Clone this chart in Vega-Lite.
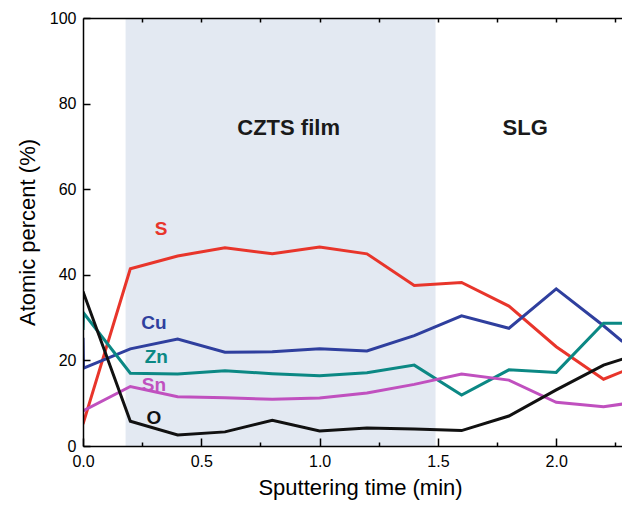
{
  "$schema": "https://vega.github.io/schema/vega-lite/v6.json",
  "width": 539,
  "height": 428,
  "autosize": {"type": "none"},
  "padding": {"left": 83, "top": 18, "right": 0, "bottom": 59},
  "background": "white",
  "config": {
    "view": {"stroke": null},
    "font": "Liberation Sans",
    "axis": {"zindex": 1, "domainColor": "black", "domainWidth": 1.5, "tickColor": "black", "tickWidth": 1.5, "grid": false, "labelColor": "black", "titleColor": "black", "labelFont": "Liberation Sans", "titleFont": "Liberation Sans", "labelFontSize": 16, "titleFontSize": 22, "titleFontWeight": "normal", "labelFlush": false}
  },
  "datasets": {
    "series": [
      {"el": "S", "o": 0, "t": 0, "v": 5.1},
      {"el": "S", "o": 1, "t": 0.2, "v": 41.4},
      {"el": "S", "o": 2, "t": 0.4, "v": 44.4},
      {"el": "S", "o": 3, "t": 0.6, "v": 46.3},
      {"el": "S", "o": 4, "t": 0.8, "v": 44.9},
      {"el": "S", "o": 5, "t": 1.0, "v": 46.5},
      {"el": "S", "o": 6, "t": 1.2, "v": 44.9},
      {"el": "S", "o": 7, "t": 1.4, "v": 37.5},
      {"el": "S", "o": 8, "t": 1.6, "v": 38.2},
      {"el": "S", "o": 9, "t": 1.8, "v": 32.7},
      {"el": "S", "o": 10, "t": 2.0, "v": 23.2},
      {"el": "S", "o": 11, "t": 2.2, "v": 15.6},
      {"el": "S", "o": 12, "t": 2.28, "v": 17.4},
      {"el": "Cu", "o": 0, "t": 0, "v": 25.3},
      {"el": "Cu", "o": 1, "t": 0.002, "v": 18.2},
      {"el": "Cu", "o": 2, "t": 0.2, "v": 22.7},
      {"el": "Cu", "o": 3, "t": 0.4, "v": 25.0},
      {"el": "Cu", "o": 4, "t": 0.6, "v": 21.9},
      {"el": "Cu", "o": 5, "t": 0.8, "v": 22.0},
      {"el": "Cu", "o": 6, "t": 1.0, "v": 22.7},
      {"el": "Cu", "o": 7, "t": 1.2, "v": 22.2},
      {"el": "Cu", "o": 8, "t": 1.4, "v": 25.8},
      {"el": "Cu", "o": 9, "t": 1.6, "v": 30.4},
      {"el": "Cu", "o": 10, "t": 1.8, "v": 27.5},
      {"el": "Cu", "o": 11, "t": 2.0, "v": 36.7},
      {"el": "Cu", "o": 12, "t": 2.2, "v": 28.1},
      {"el": "Cu", "o": 13, "t": 2.28, "v": 24.4},
      {"el": "Zn", "o": 0, "t": 0, "v": 27.1},
      {"el": "Zn", "o": 1, "t": 0.002, "v": 31.1},
      {"el": "Zn", "o": 2, "t": 0.2, "v": 17.0},
      {"el": "Zn", "o": 3, "t": 0.4, "v": 16.8},
      {"el": "Zn", "o": 4, "t": 0.6, "v": 17.6},
      {"el": "Zn", "o": 5, "t": 0.8, "v": 16.9},
      {"el": "Zn", "o": 6, "t": 1.0, "v": 16.4},
      {"el": "Zn", "o": 7, "t": 1.2, "v": 17.1},
      {"el": "Zn", "o": 8, "t": 1.4, "v": 18.9},
      {"el": "Zn", "o": 9, "t": 1.6, "v": 11.9},
      {"el": "Zn", "o": 10, "t": 1.8, "v": 17.8},
      {"el": "Zn", "o": 11, "t": 2.0, "v": 17.2},
      {"el": "Zn", "o": 12, "t": 2.2, "v": 28.7},
      {"el": "Zn", "o": 13, "t": 2.28, "v": 28.7},
      {"el": "Sn", "o": 0, "t": 0, "v": 8.2},
      {"el": "Sn", "o": 1, "t": 0.2, "v": 13.9},
      {"el": "Sn", "o": 2, "t": 0.4, "v": 11.5},
      {"el": "Sn", "o": 3, "t": 0.6, "v": 11.3},
      {"el": "Sn", "o": 4, "t": 0.8, "v": 10.9},
      {"el": "Sn", "o": 5, "t": 1.0, "v": 11.2},
      {"el": "Sn", "o": 6, "t": 1.2, "v": 12.4},
      {"el": "Sn", "o": 7, "t": 1.4, "v": 14.4},
      {"el": "Sn", "o": 8, "t": 1.6, "v": 16.8},
      {"el": "Sn", "o": 9, "t": 1.8, "v": 15.4},
      {"el": "Sn", "o": 10, "t": 2.0, "v": 10.2},
      {"el": "Sn", "o": 11, "t": 2.2, "v": 9.2},
      {"el": "Sn", "o": 12, "t": 2.28, "v": 9.8},
      {"el": "O", "o": 0, "t": 0, "v": 36.1},
      {"el": "O", "o": 1, "t": 0.2, "v": 5.8},
      {"el": "O", "o": 2, "t": 0.4, "v": 2.6},
      {"el": "O", "o": 3, "t": 0.6, "v": 3.3},
      {"el": "O", "o": 4, "t": 0.8, "v": 6.0},
      {"el": "O", "o": 5, "t": 1.0, "v": 3.5},
      {"el": "O", "o": 6, "t": 1.2, "v": 4.2},
      {"el": "O", "o": 7, "t": 1.4, "v": 4.0},
      {"el": "O", "o": 8, "t": 1.6, "v": 3.6},
      {"el": "O", "o": 9, "t": 1.8, "v": 7.0},
      {"el": "O", "o": 10, "t": 2.0, "v": 13.1},
      {"el": "O", "o": 11, "t": 2.2, "v": 18.9},
      {"el": "O", "o": 12, "t": 2.28, "v": 20.3}
    ],
    "labels": [
      {"el": "S", "t": 0.33, "v": 50.7},
      {"el": "Cu", "t": 0.3, "v": 28.8},
      {"el": "Zn", "t": 0.31, "v": 20.8},
      {"el": "Sn", "t": 0.3, "v": 14.3},
      {"el": "O", "t": 0.3, "v": 6.5}
    ],
    "regions": [
      {"name": "CZTS film", "t": 0.869, "v": 74.4},
      {"name": "SLG", "t": 1.869, "v": 74.4}
    ]
  },
  "resolve": {"axis": {"x": "independent"}},
  "layer": [
    {
      "data": {"values": [{"a": 0.18, "b": 1.49}]},
      "mark": {"type": "rect", "color": "#e3e9f2"},
      "encoding": {
        "x": {"field": "a", "type": "quantitative", "scale": {"domain": [0, 2.278], "nice": false, "zero": false},
          "axis": {"orient": "top", "zindex": 2, "labels": false, "title": null, "values": [0.25, 0.5, 0.75, 1.0, 1.25, 1.5, 1.75, 2.0, 2.25], "tickSize": -4}},
        "x2": {"field": "b"}
      }
    },
    {
      "data": {"name": "series"},
      "mark": {"type": "line", "strokeWidth": 3, "strokeJoin": "miter", "clip": true},
      "encoding": {
        "x": {"field": "t", "type": "quantitative", "scale": {"domain": [0, 2.278], "nice": false, "zero": false},
          "axis": {"orient": "bottom", "zindex": 2, "title": "Sputtering time (min)", "titleX": 277, "values": [0, 0.25, 0.5, 0.75, 1.0, 1.25, 1.5, 1.75, 2.0, 2.25],
            "labelExpr": "datum.value % 0.5 == 0 ? format(datum.value, '.1f') : ''",
            "tickSize": {"condition": {"test": "datum.value % 0.5 == 0", "value": -8}, "value": -4},
            "labelPadding": 15, "titlePadding": 8}},
        "y": {"field": "v", "type": "quantitative", "scale": {"domain": [0, 100], "nice": false},
          "axis": {"title": "Atomic percent (%)", "zindex": 2, "values": [0, 20, 40, 60, 80, 100], "tickSize": -7, "labelPadding": 14, "titlePadding": 10}},
        "color": {"field": "el", "type": "nominal", "legend": null,
          "scale": {"domain": ["S", "Cu", "Zn", "Sn", "O"], "range": ["#e8352b", "#2f3f9e", "#0b8884", "#c050bf", "#111111"]}},
        "order": {"field": "o", "type": "quantitative"}
      }
    },
    {
      "data": {"name": "labels"},
      "mark": {"type": "text", "fontSize": 19, "fontWeight": "bold", "align": "center", "baseline": "middle"},
      "encoding": {
        "x": {"field": "t", "type": "quantitative", "axis": null},
        "y": {"field": "v", "type": "quantitative"},
        "text": {"field": "el"},
        "color": {"field": "el", "type": "nominal", "legend": null}
      }
    },
    {
      "data": {"name": "regions"},
      "mark": {"type": "text", "fontSize": 22, "fontWeight": "bold", "align": "center", "baseline": "middle", "color": "#1a1a1a"},
      "encoding": {
        "x": {"field": "t", "type": "quantitative", "axis": null},
        "y": {"field": "v", "type": "quantitative"},
        "text": {"field": "name"}
      }
    }
  ]
}
